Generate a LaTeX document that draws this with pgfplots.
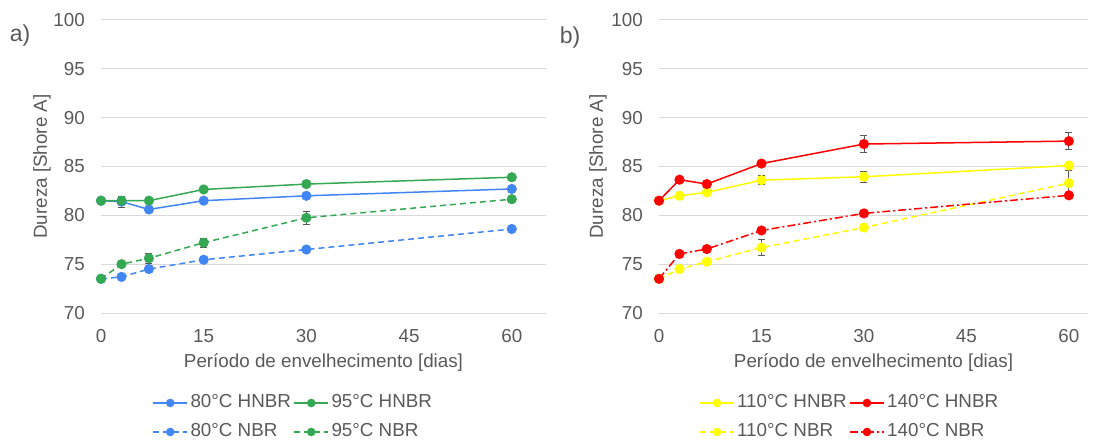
\documentclass[border=0pt]{standalone}
\usepackage{fontspec}
\setmainfont{Liberation Sans}
\usepackage{pgfplots}
\pgfplotsset{compat=1.18}
\definecolor{cblue}{HTML}{4285F4}
\definecolor{cgreen}{HTML}{34A853}
\definecolor{cred}{HTML}{FF0000}
\definecolor{cyel}{HTML}{FFFF00}
\definecolor{ctext}{HTML}{595959}
\definecolor{cgrid}{HTML}{D9D9D9}
\newcommand{\fs}{\fontsize{18.8}{22}\selectfont}
\pgfplotsset{
  base/.style={
    scale only axis, height=293pt,
    ymin=70, ymax=100, ytick={70,75,...,100},
    xmin=0, xtick={0,15,30,45,60},
    axis line style={draw=none},
    major tick length=0pt,
    ymajorgrids, grid style={cgrid, line width=1pt},
    tick label style={font=\fs, text=ctext},
    /pgf/number format/assume math mode=true,
    yticklabel style={inner sep=0pt, anchor=east, xshift=-16pt},
    xticklabel style={inner sep=0pt, anchor=north, yshift=-16.5pt},
    label style={font=\fs, text=ctext},
    xlabel={Período de envelhecimento [dias]},
    ylabel={Dureza [Shore A]},
    legend columns=2,
    legend style={draw=none, fill=none, font=\fs, text=ctext, anchor=center,
      nodes={inner sep=2.5pt, text height=13pt, text depth=3pt}, row sep=8pt},
    legend cell align=left,
    legend image code/.code={\draw[mark repeat=2,mark phase=2,#1,mark size=3.5pt] plot coordinates {(0pt,0pt) (17pt,0pt) (34pt,0pt)};},
    error bars/error bar style={ctext, line width=0.8pt, solid},
    error bars/error mark options={rotate=90, mark size=3.5pt, ctext, line width=0.8pt},
  },
  ser/.style={line width=1.5pt, color=#1, mark=*, mark size=4.3pt, mark options={solid, fill=#1, draw=#1}},
  dsh/.style={dash pattern=on 6pt off 4pt},
  dshd/.style={dash pattern=on 8pt off 3pt on 2pt off 3pt},
}
\begin{document}
\begin{tikzpicture}[x=1pt,y=1pt]
\useasboundingbox (0,0) rectangle (1099,439);
\node[font=\fontsize{23}{26}\selectfont, text=ctext, anchor=center] at (20,403) {a)};
\node[font=\fontsize{23}{26}\selectfont, text=ctext, anchor=center] at (570,401) {b)};
\begin{axis}[base, at={(101pt,126pt)}, anchor=south west, width=445pt, xmax=65,
  xlabel style={at={(axis description cs:0.5,-0.1877)}, anchor=base},
  ylabel style={at={(axis description cs:-0.1326,0.5)}, anchor=center},
  legend style={at={(axis description cs:0.4326,-0.3566)}}]
\addplot[ser=cblue, error bars/.cd, y dir=both, y explicit] table[x=x, y=y, y error=e] {
x y e
0 81.5 0.1
3 81.4 0.55
7 80.6 0.15
15 81.5 0.15
30 82.0 0.15
60 82.7 0.15
};
\addlegendentry{80°C HNBR}
\addplot[ser=cgreen, error bars/.cd, y dir=both, y explicit] table[x=x, y=y, y error=e] {
x y e
0 81.5 0.1
3 81.5 0.2
7 81.5 0.15
15 82.65 0.15
30 83.2 0.2
60 83.9 0.15
};
\addlegendentry{95°C HNBR}
\addplot[ser=cblue, dsh, error bars/.cd, y dir=both, y explicit] table[x=x, y=y, y error=e] {
x y e
0 73.5 0.1
3 73.7 0.15
7 74.5 0.2
15 75.45 0.15
30 76.5 0.15
60 78.6 0.15
};
\addlegendentry{80°C NBR}
\addplot[ser=cgreen, dsh, error bars/.cd, y dir=both, y explicit] table[x=x, y=y, y error=e] {
x y e
0 73.5 0.1
3 75.0 0.3
7 75.6 0.5
15 77.2 0.45
30 79.75 0.65
60 81.65 0.25
};
\addlegendentry{95°C NBR}
\end{axis}
\begin{axis}[base, at={(659pt,126pt)}, anchor=south west, width=429pt, xmax=62.8,
  xlabel style={at={(axis description cs:0.5,-0.1877)}, anchor=base},
  ylabel style={at={(axis description cs:-0.1422,0.5)}, anchor=center},
  legend style={at={(axis description cs:0.445,-0.3566)}}]
\addplot[ser=cyel, error bars/.cd, y dir=both, y explicit] table[x=x, y=y, y error=e] {
x y e
0 81.5 0.1
3 82.0 0.3
7 82.35 0.2
15 83.6 0.45
30 83.95 0.55
60 85.1 0.2
};
\addlegendentry{110°C HNBR}
\addplot[ser=cred, error bars/.cd, y dir=both, y explicit] table[x=x, y=y, y error=e] {
x y e
0 81.5 0.1
3 83.65 0.15
7 83.2 0.15
15 85.3 0.15
30 87.3 0.9
60 87.6 0.85
};
\addlegendentry{140°C HNBR}
\addplot[ser=cyel, dsh, error bars/.cd, y dir=both, y explicit] table[x=x, y=y, y error=e] {
x y e
0 73.5 0.1
3 74.5 0.15
7 75.25 0.2
15 76.7 0.8
30 78.75 0.3
60 83.3 1.35
};
\addlegendentry{110°C NBR}
\addplot[ser=cred, dshd, error bars/.cd, y dir=both, y explicit] table[x=x, y=y, y error=e] {
x y e
0 73.5 0.1
3 76.05 0.15
7 76.55 0.15
15 78.45 0.15
30 80.2 0.15
60 82.05 0.15
};
\addlegendentry{140°C NBR}
\end{axis}
\end{tikzpicture}
\end{document}
